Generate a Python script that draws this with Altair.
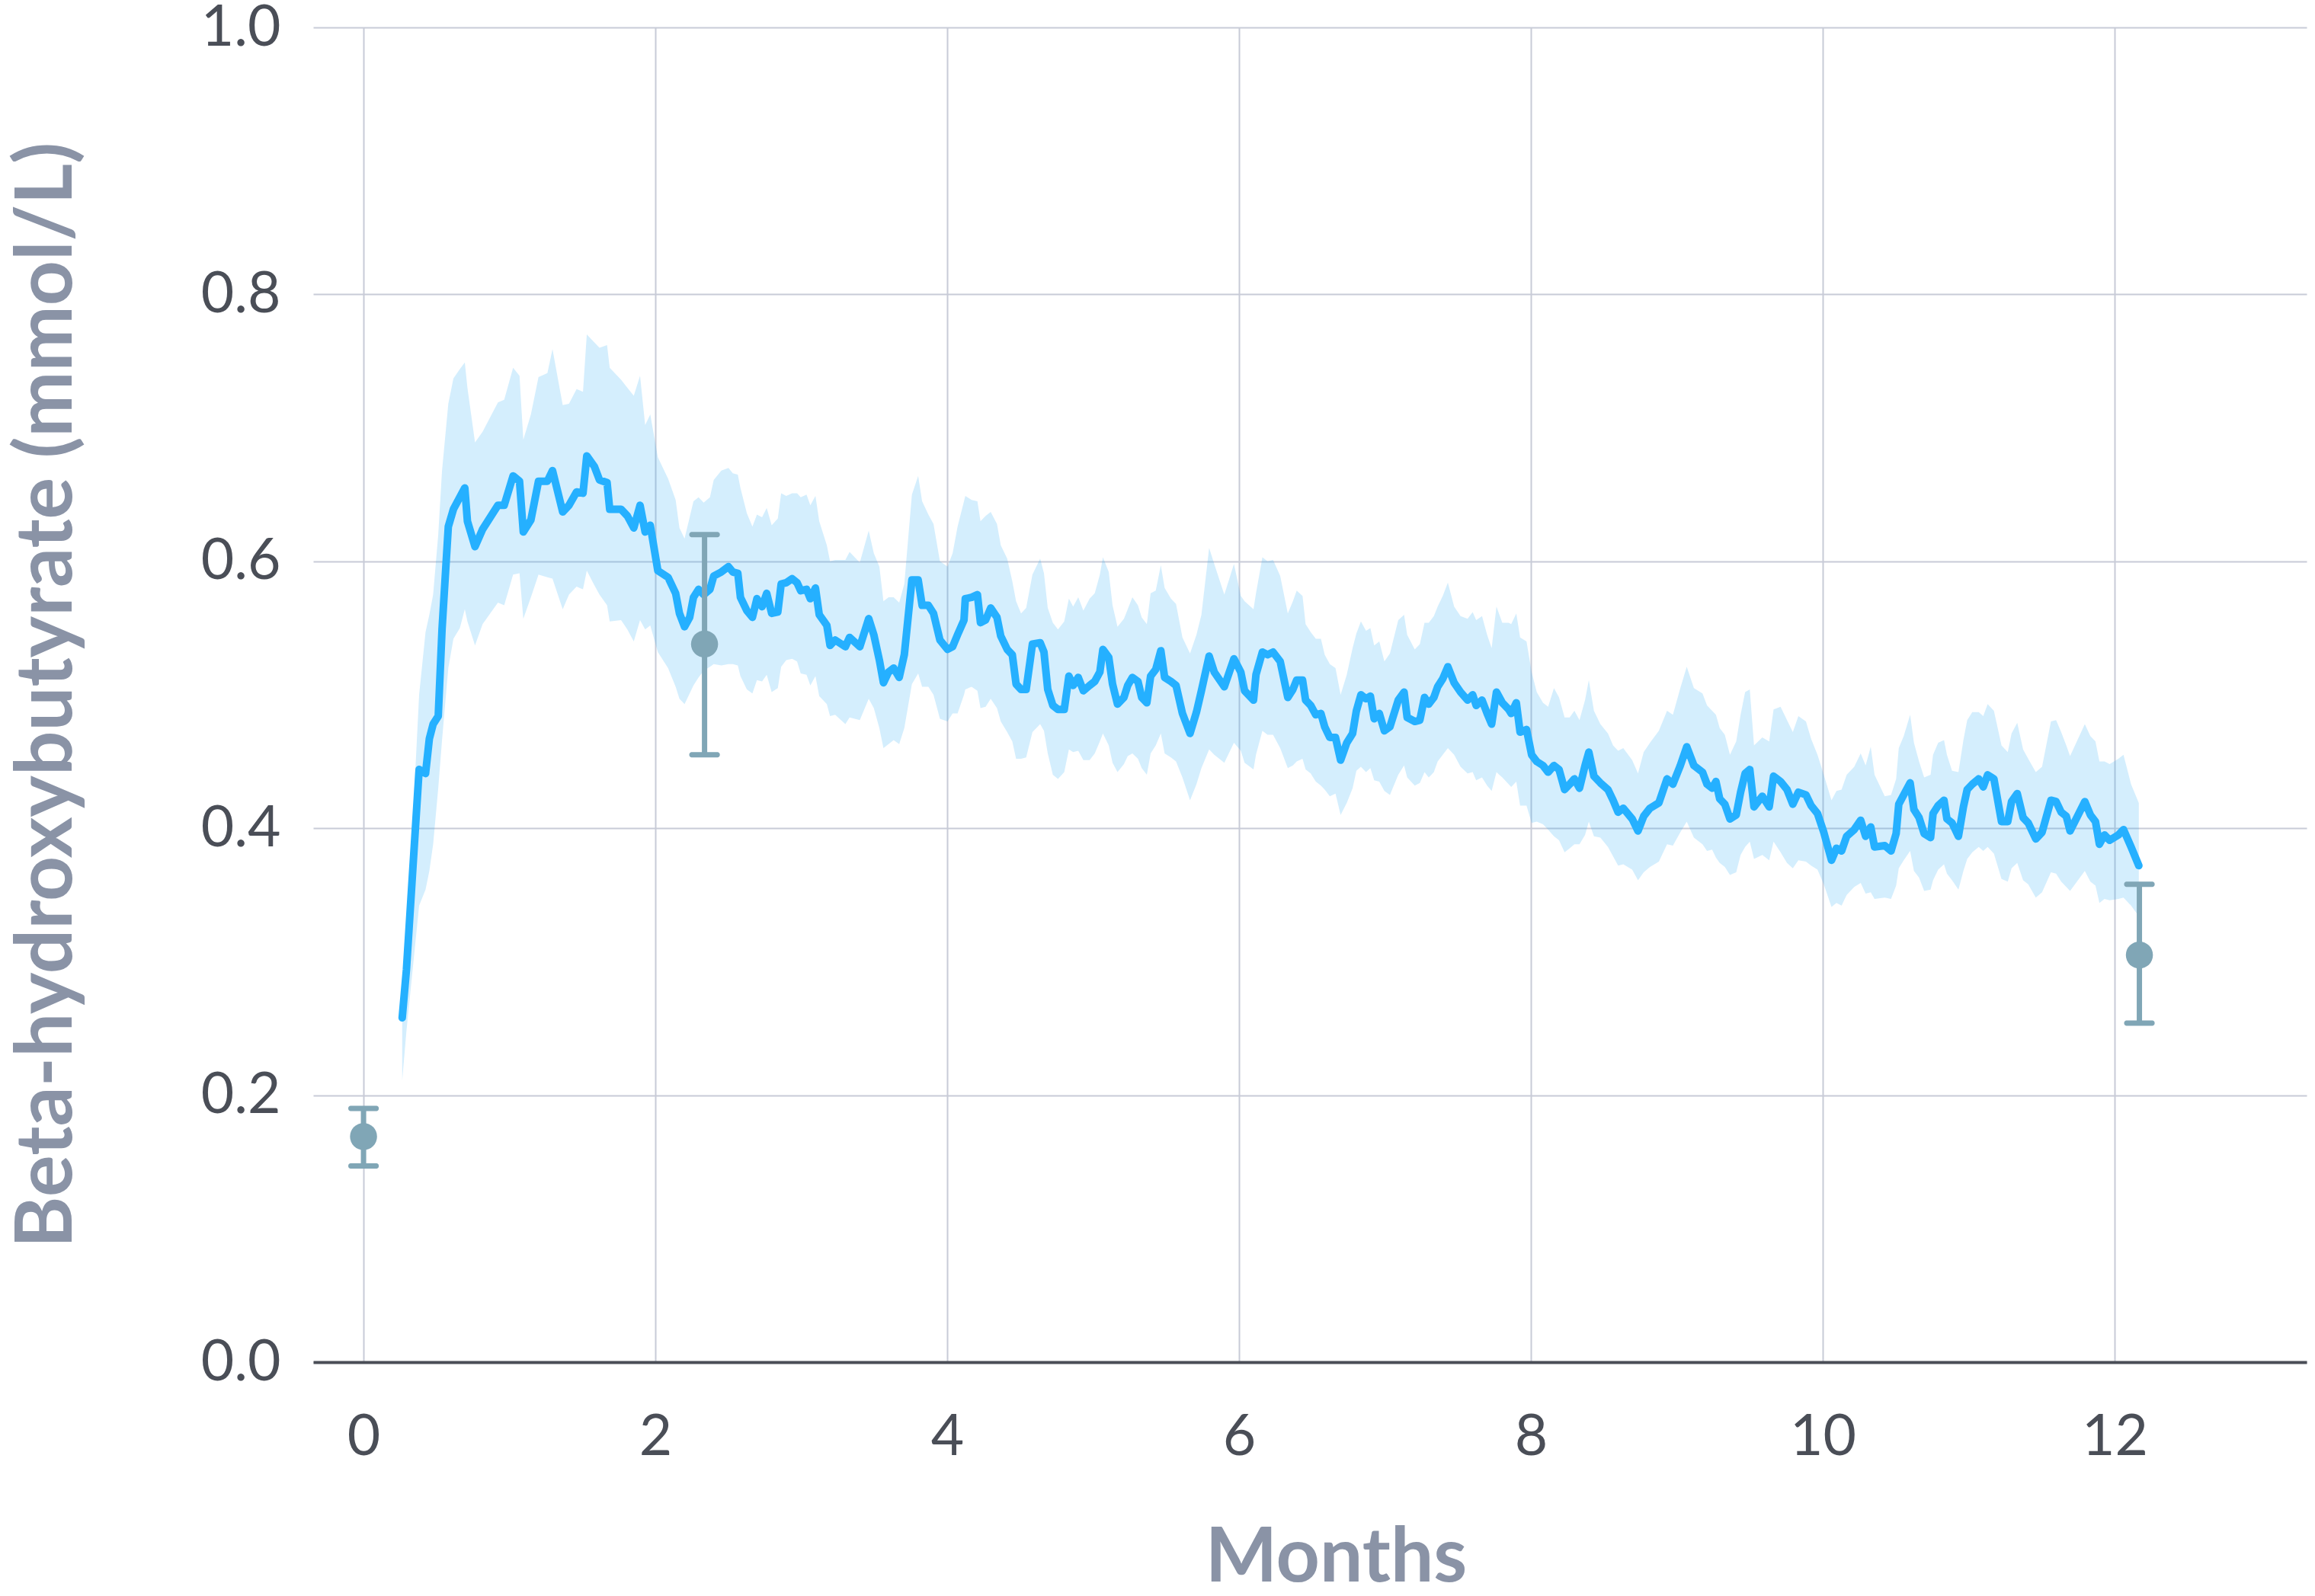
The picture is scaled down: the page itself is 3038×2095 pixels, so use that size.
import altair as alt
import pandas as pd

# Daily mean beta-hydroxybutyrate with its confidence band (months since start)
months = [
    0.265, 0.294, 0.381, 0.425, 0.451, 0.477, 0.512, 0.538, 0.581, 0.616,
    0.660, 0.694, 0.712, 0.764, 0.816, 0.921, 0.964, 1.025, 1.069, 1.095,
    1.147, 1.199, 1.260, 1.295, 1.365, 1.408, 1.460, 1.504, 1.530, 1.582,
    1.617, 1.669, 1.687, 1.765, 1.808, 1.852, 1.895, 1.930, 1.965, 2.017,
    2.087, 2.139, 2.165, 2.200, 2.235, 2.261, 2.296, 2.331, 2.374, 2.400,
    2.452, 2.501, 2.531, 2.565, 2.583, 2.627, 2.665, 2.696, 2.731, 2.763,
    2.797, 2.839, 2.862, 2.897, 2.937, 2.971, 2.996, 3.036, 3.062, 3.097,
    3.123, 3.175, 3.197, 3.232, 3.302, 3.331, 3.401, 3.462, 3.497, 3.535,
    3.563, 3.598, 3.633, 3.671, 3.706, 3.758, 3.801, 3.828, 3.871, 3.906,
    3.950, 4.002, 4.037, 4.071, 4.115, 4.124, 4.167, 4.207,
    4.228, 4.263, 4.298, 4.341, 4.367, 4.411, 4.446, 4.472, 4.506, 4.541,
    4.584, 4.637, 4.663, 4.689, 4.724, 4.759, 4.802, 4.834, 4.863, 4.898,
    4.933, 4.976, 5.011, 5.046, 5.067, 5.107, 5.133, 5.167, 5.211, 5.237,
    5.269, 5.307, 5.333, 5.368, 5.394, 5.429, 5.464, 5.490, 5.533, 5.568,
    5.612, 5.664, 5.708, 5.742, 5.795, 5.830, 5.899, 5.965, 6.012, 6.038,
    6.099, 6.116, 6.160, 6.195, 6.233,
    6.282, 6.334, 6.369, 6.395, 6.435, 6.456, 6.491, 6.526, 6.561, 6.587,
    6.622, 6.661, 6.696, 6.738, 6.778, 6.804, 6.835, 6.870, 6.900, 6.926,
    6.961, 6.996, 7.034, 7.091, 7.131, 7.152, 7.204, 7.239, 7.271, 7.300,
    7.335, 7.361, 7.396, 7.431, 7.474, 7.518, 7.566, 7.601, 7.625, 7.665,
    7.700, 7.731, 7.764, 7.804, 7.848, 7.865, 7.900, 7.926, 7.970, 8.005,
    8.040, 8.083, 8.118, 8.158, 8.193, 8.231, 8.266, 8.298, 8.333, 8.371,
    8.397,
    8.432, 8.476, 8.528, 8.563, 8.598, 8.633, 8.694, 8.734, 8.773, 8.816,
    8.877, 8.933, 8.973, 9.024, 9.068, 9.117, 9.176, 9.207, 9.242, 9.268,
    9.294, 9.329, 9.364, 9.407, 9.437, 9.468, 9.500, 9.529, 9.586, 9.633,
    9.663, 9.711, 9.755, 9.795, 9.833, 9.885, 9.920, 9.964, 10.007, 10.060,
    10.094, 10.129, 10.164, 10.216, 10.260, 10.294, 10.329, 10.355, 10.425, 10.468,
    10.503,
    10.521, 10.555, 10.599, 10.625, 10.660, 10.695, 10.739, 10.756, 10.791, 10.831,
    10.851, 10.886, 10.930, 10.964, 10.990, 11.025, 11.069, 11.100, 11.130, 11.173,
    11.225, 11.268, 11.294, 11.333, 11.373, 11.408, 11.460, 11.503, 11.564, 11.599,
    11.634, 11.669, 11.695, 11.796, 11.834, 11.869, 11.896, 11.931, 11.966, 12.026,
    12.061, 12.113, 12.166,
]

bhb_mean = [
    0.258, 0.294, 0.444, 0.441, 0.467, 0.478, 0.484, 0.549, 0.626, 0.639,
    0.648, 0.655, 0.630, 0.611, 0.624, 0.642, 0.642, 0.664, 0.660, 0.622,
    0.631, 0.660, 0.660, 0.668, 0.637, 0.642, 0.652, 0.651, 0.679, 0.671,
    0.661, 0.659, 0.639, 0.639, 0.634, 0.625, 0.642, 0.622, 0.627, 0.593,
    0.588, 0.576, 0.561, 0.551, 0.558, 0.573, 0.579, 0.575, 0.579, 0.589,
    0.592, 0.596, 0.592, 0.591, 0.573, 0.563, 0.558, 0.572, 0.566, 0.576,
    0.561, 0.562, 0.583, 0.584, 0.587, 0.584, 0.578, 0.579, 0.572, 0.580,
    0.560, 0.552, 0.537, 0.541, 0.536, 0.543, 0.536, 0.557, 0.545, 0.526,
    0.509, 0.517, 0.520, 0.513, 0.530, 0.586, 0.586, 0.567, 0.567, 0.561,
    0.541, 0.534, 0.536, 0.545, 0.556, 0.572, 0.573, 0.575,
    0.554, 0.556, 0.565, 0.558, 0.544, 0.534, 0.530, 0.508, 0.504, 0.504,
    0.538, 0.539, 0.532, 0.504, 0.492, 0.489, 0.489, 0.514, 0.507, 0.513,
    0.503, 0.507, 0.510, 0.517, 0.534, 0.528, 0.508, 0.493, 0.498, 0.507,
    0.513, 0.510, 0.498, 0.494, 0.514, 0.519, 0.533, 0.513, 0.510, 0.507,
    0.486, 0.471, 0.487, 0.503, 0.529, 0.517, 0.506, 0.527, 0.517, 0.503,
    0.496, 0.515, 0.532, 0.530, 0.532,
    0.525, 0.498, 0.504, 0.511, 0.511, 0.496, 0.492, 0.485, 0.486, 0.476,
    0.468, 0.468, 0.451, 0.464, 0.471, 0.488, 0.500, 0.497, 0.499, 0.482,
    0.486, 0.473, 0.476, 0.496, 0.502, 0.483, 0.480, 0.481, 0.498, 0.493,
    0.498, 0.506, 0.512, 0.521, 0.509, 0.502, 0.496, 0.500, 0.492, 0.496,
    0.486, 0.478, 0.502, 0.494, 0.489, 0.486, 0.494, 0.472, 0.474, 0.455,
    0.450, 0.447, 0.442, 0.447, 0.444, 0.429, 0.433, 0.437, 0.430, 0.447,
    0.457,
    0.439, 0.434, 0.429, 0.421, 0.412, 0.415, 0.407, 0.398, 0.409, 0.415,
    0.419, 0.437, 0.433, 0.447, 0.461, 0.447, 0.442, 0.433, 0.430, 0.435,
    0.422, 0.418, 0.407, 0.410, 0.427, 0.441, 0.444, 0.416, 0.424, 0.416,
    0.439, 0.435, 0.429, 0.418, 0.427, 0.425, 0.417, 0.411, 0.397, 0.376,
    0.385, 0.383, 0.394, 0.399, 0.406, 0.394, 0.401, 0.386, 0.387, 0.383,
    0.396,
    0.418, 0.425, 0.434, 0.414, 0.408, 0.396, 0.393, 0.411, 0.417, 0.421,
    0.407, 0.404, 0.394, 0.416, 0.429, 0.433, 0.437, 0.431, 0.440, 0.437,
    0.405, 0.405, 0.420, 0.426, 0.408, 0.404, 0.392, 0.397, 0.421, 0.420,
    0.412, 0.409, 0.398, 0.420, 0.410, 0.405, 0.388, 0.395, 0.391, 0.395,
    0.399, 0.386, 0.372,
]

bhb_lower = [
    0.211, 0.248, 0.342, 0.354, 0.368, 0.388, 0.430, 0.466, 0.520, 0.542,
    0.550, 0.564, 0.555, 0.537, 0.553, 0.569, 0.567, 0.590, 0.591, 0.557,
    0.573, 0.590, 0.588, 0.587, 0.564, 0.575, 0.581, 0.579, 0.593, 0.582,
    0.575, 0.567, 0.555, 0.556, 0.549, 0.540, 0.556, 0.549, 0.552, 0.532,
    0.520, 0.506, 0.497, 0.493, 0.501, 0.507, 0.513, 0.518, 0.521, 0.523,
    0.522, 0.523, 0.523, 0.522, 0.514, 0.504, 0.501, 0.511, 0.510, 0.515,
    0.502, 0.505, 0.521, 0.526, 0.527, 0.525, 0.516, 0.515, 0.507, 0.514,
    0.499, 0.493, 0.484, 0.485, 0.478, 0.483, 0.481, 0.497, 0.490, 0.475,
    0.460, 0.463, 0.466, 0.463, 0.475, 0.508, 0.516, 0.506, 0.506, 0.500,
    0.482, 0.480, 0.486, 0.486, 0.500, 0.504, 0.506, 0.503,
    0.490, 0.491, 0.497, 0.490, 0.480, 0.472, 0.465, 0.452, 0.452, 0.453,
    0.472, 0.478, 0.473, 0.456, 0.440, 0.437, 0.442, 0.459, 0.457, 0.458,
    0.451, 0.451, 0.456, 0.465, 0.471, 0.462, 0.449, 0.442, 0.448, 0.454,
    0.456, 0.452, 0.445, 0.440, 0.456, 0.462, 0.471, 0.456, 0.453, 0.450,
    0.438, 0.421, 0.433, 0.445, 0.459, 0.455, 0.449, 0.464, 0.458, 0.449,
    0.444, 0.455, 0.473, 0.470, 0.470,
    0.460, 0.445, 0.447, 0.450, 0.452, 0.444, 0.441, 0.435, 0.432, 0.429,
    0.424, 0.426, 0.410, 0.419, 0.430, 0.443, 0.446, 0.442, 0.445, 0.436,
    0.435, 0.428, 0.425, 0.440, 0.447, 0.438, 0.432, 0.434, 0.442, 0.438,
    0.442, 0.450, 0.455, 0.460, 0.455, 0.446, 0.441, 0.442, 0.436, 0.438,
    0.432, 0.428, 0.442, 0.438, 0.433, 0.431, 0.435, 0.417, 0.417, 0.404,
    0.405, 0.403, 0.399, 0.394, 0.391, 0.382, 0.385, 0.388, 0.388, 0.395,
    0.405,
    0.394, 0.393, 0.386, 0.379, 0.372, 0.373, 0.369, 0.361, 0.367, 0.371,
    0.375, 0.388, 0.387, 0.397, 0.405, 0.393, 0.388, 0.383, 0.384, 0.378,
    0.374, 0.371, 0.365, 0.367, 0.380, 0.386, 0.390, 0.377, 0.380, 0.376,
    0.390, 0.382, 0.374, 0.370, 0.376, 0.375, 0.372, 0.369, 0.358, 0.341,
    0.344, 0.342, 0.350, 0.356, 0.359, 0.351, 0.352, 0.347, 0.348, 0.347,
    0.357,
    0.370, 0.376, 0.383, 0.368, 0.363, 0.353, 0.354, 0.361, 0.369, 0.373,
    0.366, 0.361, 0.354, 0.368, 0.377, 0.382, 0.386, 0.383, 0.386, 0.381,
    0.362, 0.360, 0.370, 0.374, 0.361, 0.358, 0.348, 0.352, 0.367, 0.366,
    0.360, 0.356, 0.353, 0.368, 0.360, 0.357, 0.344, 0.347, 0.346, 0.347,
    0.348, 0.342, 0.334,
]

bhb_upper = [
    0.262, 0.310, 0.500, 0.547, 0.560, 0.575, 0.620, 0.668, 0.718, 0.737,
    0.744, 0.749, 0.730, 0.689, 0.697, 0.719, 0.721, 0.745, 0.739, 0.691,
    0.710, 0.738, 0.741, 0.759, 0.717, 0.718, 0.729, 0.727, 0.770, 0.764,
    0.760, 0.762, 0.745, 0.736, 0.730, 0.724, 0.739, 0.702, 0.710, 0.678,
    0.662, 0.646, 0.625, 0.617, 0.633, 0.645, 0.648, 0.644, 0.648, 0.661,
    0.668, 0.670, 0.666, 0.665, 0.655, 0.636, 0.626, 0.635, 0.633, 0.640,
    0.627, 0.632, 0.651, 0.649, 0.651, 0.651, 0.648, 0.650, 0.642, 0.649,
    0.630, 0.612, 0.600, 0.601, 0.601, 0.607, 0.599, 0.623, 0.606, 0.596,
    0.570, 0.573, 0.573, 0.569, 0.583, 0.650, 0.664, 0.645, 0.635, 0.628,
    0.600, 0.596, 0.606, 0.626, 0.645, 0.649, 0.646, 0.645,
    0.630, 0.634, 0.637, 0.628, 0.612, 0.602, 0.585, 0.570, 0.561, 0.565,
    0.590, 0.602, 0.591, 0.565, 0.554, 0.549, 0.555, 0.572, 0.566, 0.573,
    0.563, 0.572, 0.576, 0.590, 0.603, 0.592, 0.567, 0.551, 0.557, 0.564,
    0.573, 0.567, 0.558, 0.553, 0.576, 0.578, 0.597, 0.580, 0.572, 0.568,
    0.543, 0.531, 0.545, 0.560, 0.610, 0.598, 0.575, 0.598, 0.574, 0.570,
    0.564, 0.576, 0.603, 0.600, 0.601,
    0.589, 0.561, 0.570, 0.578, 0.574, 0.553, 0.547, 0.542, 0.542, 0.530,
    0.523, 0.520, 0.500, 0.515, 0.535, 0.546, 0.555, 0.548, 0.550, 0.537,
    0.540, 0.525, 0.531, 0.556, 0.560, 0.545, 0.534, 0.538, 0.554, 0.554,
    0.559, 0.566, 0.574, 0.584, 0.566, 0.559, 0.557, 0.562, 0.556, 0.559,
    0.545, 0.535, 0.566, 0.554, 0.554, 0.553, 0.561, 0.543, 0.540, 0.517,
    0.502, 0.494, 0.491, 0.505, 0.498, 0.483, 0.483, 0.488, 0.481, 0.496,
    0.511,
    0.488, 0.478, 0.471, 0.462, 0.458, 0.460, 0.451, 0.441, 0.457, 0.464,
    0.473, 0.488, 0.485, 0.505, 0.521, 0.505, 0.501, 0.492, 0.488, 0.485,
    0.475, 0.470, 0.455, 0.465, 0.485, 0.502, 0.504, 0.462, 0.468, 0.465,
    0.489, 0.491, 0.481, 0.472, 0.484, 0.480, 0.467, 0.455, 0.440, 0.421,
    0.428, 0.429, 0.440, 0.446, 0.456, 0.447, 0.461, 0.440, 0.424, 0.425,
    0.437,
    0.460, 0.469, 0.485, 0.464, 0.450, 0.438, 0.440, 0.455, 0.464, 0.466,
    0.455, 0.443, 0.442, 0.466, 0.481, 0.487, 0.487, 0.484, 0.493, 0.488,
    0.462, 0.457, 0.471, 0.479, 0.459, 0.452, 0.442, 0.446, 0.480, 0.481,
    0.472, 0.462, 0.454, 0.478, 0.469, 0.465, 0.450, 0.450, 0.448, 0.452,
    0.455, 0.433, 0.419,
]

# Clinic visits: mean with error bar
visit_month = [0.0, 2.337, 12.17]
visit_mean = [0.169, 0.538, 0.305]
visit_lower = [0.147, 0.455, 0.254]
visit_upper = [0.190, 0.620, 0.358]

x_ticks = [0, 2, 4, 6, 8, 10, 12]
y_ticks = [0.0, 0.2, 0.4, 0.6, 0.8, 1.0]

trend = pd.DataFrame({"month": months, "mean": bhb_mean,
                      "lower": bhb_lower, "upper": bhb_upper})
visits = pd.DataFrame({"month": visit_month, "mean": visit_mean,
                       "lower": visit_lower, "upper": visit_upper})

FONT = "Lato"
LABEL_COLOR = "#4a4e57"
TITLE_COLOR = "#8a93a6"
GRID_COLOR = "#c8cbd7"
LINE_COLOR = "#25b0ff"
BAND_COLOR = "#27a9f5"
VISIT_COLOR = "#80a6b6"

W, H = 2616, 1752

x_scale = alt.Scale(domain=[-0.345, 13.316], nice=False, zero=False)
y_scale = alt.Scale(domain=[0, 1], nice=False, zero=False)

x_axis = alt.Axis(
    values=x_ticks, format="d", title="Months",
    grid=True, gridColor=GRID_COLOR, gridWidth=2,
    domain=True, domainColor=LABEL_COLOR, domainWidth=4,
    ticks=False, labelFont=FONT, labelFontSize=75, labelFontWeight="normal",
    labelColor=LABEL_COLOR, labelPadding=62,
    titleFont=FONT, titleFontSize=100, titleFontWeight="bold",
    titleColor=TITLE_COLOR, titleX=1342, titleY=287,
    titleAlign="center", titleBaseline="alphabetic",
)
y_axis = alt.Axis(
    values=y_ticks, format=".1f", title="Beta-hydroxybutyrate (mmol/L)",
    grid=True, gridColor=GRID_COLOR, gridWidth=2,
    domain=False, ticks=False, labelFont=FONT, labelFontSize=75,
    labelFontWeight="normal", labelColor=LABEL_COLOR, labelPadding=43,
    titleFont=FONT, titleFontSize=103, titleFontWeight="bold",
    titleColor=TITLE_COLOR, titleAngle=270, titleX=-318, titleY=876,
    titleAlign="center", titleBaseline="alphabetic",
)


def xenc():
    return alt.X("month:Q", scale=x_scale, axis=x_axis)


def yenc(field):
    return alt.Y(f"{field}:Q", scale=y_scale, axis=y_axis)


band = alt.Chart(trend).mark_area(color=BAND_COLOR, opacity=0.2).encode(
    x=xenc(), y=yenc("lower"), y2="upper:Q"
)

line = alt.Chart(trend).mark_line(
    color=LINE_COLOR, strokeWidth=10, strokeJoin="round", strokeCap="round"
).encode(x=xenc(), y=yenc("mean"))

bars = alt.Chart(visits).mark_rule(color=VISIT_COLOR, strokeWidth=7).encode(
    x=xenc(), y=yenc("lower"), y2="upper:Q"
)

cap_low = alt.Chart(visits).mark_tick(
    orient="horizontal", color=VISIT_COLOR, size=40, thickness=7,
    cornerRadius=3, opacity=1
).encode(x=xenc(), y=yenc("lower"))

cap_high = alt.Chart(visits).mark_tick(
    orient="horizontal", color=VISIT_COLOR, size=40, thickness=7,
    cornerRadius=3, opacity=1
).encode(x=xenc(), y=yenc("upper"))

dots = alt.Chart(visits).mark_circle(color=VISIT_COLOR, size=1260, opacity=1).encode(
    x=xenc(), y=yenc("mean")
)

chart = alt.layer(band, line, bars, cap_low, cap_high, dots).properties(
    width=W, height=H,
    padding={"left": 411, "top": 36, "right": 11, "bottom": 307},
    autosize=alt.AutoSizeParams(type="none"),
    background="white",
).configure_view(stroke=None)

chart.save("out.html", embed_options={"renderer": "svg", "actions": False})
